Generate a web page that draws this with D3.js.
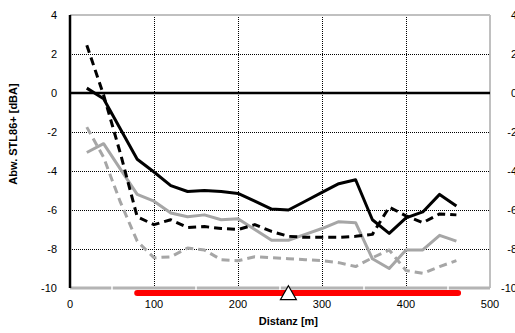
<!DOCTYPE html>
<html>
<head>
<meta charset="utf-8">
<script src="https://cdn.jsdelivr.net/npm/d3@7"></script>
<style>
  body { margin: 0; background: #fff; }
  text { font-family: "Liberation Sans", Arial, sans-serif; }
</style>
</head>
<body>
<div id="chart"></div>
<script>
// distances along the route [m]
const distanz = [20, 40, 60, 80, 100, 120, 140, 160, 180, 200, 220, 240, 260, 280, 300, 320, 340, 360, 380, 400, 420, 440, 460];

const blackSolid = [0.25, -0.3, -1.85, -3.4, -4.05, -4.75, -5.05, -5.0, -5.05, -5.15, -5.55, -5.95, -6.0, -5.55, -5.1, -4.65, -4.45, -6.5, -7.2, -6.4, -6.1, -5.2, -5.8];
const blackDashed = [2.45, -0.1, -3.1, -6.35, -6.75, -6.5, -6.9, -6.85, -6.95, -7.0, -6.75, -7.1, -7.35, -7.4, -7.4, -7.4, -7.35, -7.25, -5.85, -6.3, -6.65, -6.2, -6.25];
const graySolid = [-3.05, -2.6, -3.9, -5.2, -5.55, -6.15, -6.35, -6.25, -6.5, -6.45, -7.0, -7.55, -7.55, -7.25, -6.95, -6.6, -6.65, -8.5, -9.0, -8.05, -8.05, -7.3, -7.6];
const grayDashed = [-1.75, -3.3, -5.6, -7.6, -8.45, -8.4, -7.95, -8.05, -8.55, -8.6, -8.4, -8.45, -8.5, -8.55, -8.6, -8.7, -8.9, -8.45, -8.05, -9.1, -9.25, -8.9, -8.6];

const xTicks = [0, 100, 200, 300, 400, 500];
const xMinor = [50, 150, 250, 350, 450];
const yTicks = [4, 2, 0, -2, -4, -6, -8, -10];

const strecke = [80, 462];   // red bar
const marker = 260;          // triangle

const margin = {top: 15, right: 25, bottom: 45, left: 70};
const width = 490 - margin.left;
const height = 288 - margin.top;

const svg = d3.select("#chart")
    .append("svg")
    .attr("width", 515)
    .attr("height", 333)
    .append("g")
    .attr("transform", "translate(" + margin.left + "," + margin.top + ")");

const x = d3.scaleLinear().domain([0, 500]).range([0, width]);
const y = d3.scaleLinear().domain([-10, 4]).range([height, 0]);

const grey = "#a6a6a6";

// dotted grid
svg.selectAll(".vgrid")
    .data(xTicks.filter(d => d > 0 && d < 500))
    .enter().append("line")
    .attr("x1", d => x(d) + 0.5).attr("x2", d => x(d) + 0.5)
    .attr("y1", 0).attr("y2", height)
    .style("stroke", "#000").style("stroke-width", 1).style("stroke-dasharray", "1,1");

svg.selectAll(".hgrid")
    .data(yTicks.filter(d => d !== 0 && d !== 4 && d !== -10))
    .enter().append("line")
    .attr("x1", 0).attr("x2", width)
    .attr("y1", d => y(d) + 0.5).attr("y2", d => y(d) + 0.5)
    .style("stroke", "#000").style("stroke-width", 1).style("stroke-dasharray", "1,1");

// frame
svg.append("line").attr("x1", 0).attr("x2", width).attr("y1", 0).attr("y2", 0)
    .style("stroke", "#c0c0c0").style("stroke-width", 2);
svg.append("line").attr("x1", width).attr("x2", width).attr("y1", 0).attr("y2", height)
    .style("stroke", "#c0c0c0").style("stroke-width", 2);

// bottom axis (grey, with white minor ticks)
svg.append("line").attr("x1", 0).attr("x2", width).attr("y1", height).attr("y2", height)
    .style("stroke", "#b4b4b4").style("stroke-width", 3);
svg.selectAll(".minor")
    .data(xMinor)
    .enter().append("line")
    .attr("x1", d => x(d)).attr("x2", d => x(d))
    .attr("y1", height - 2).attr("y2", height + 2)
    .style("stroke", "#fff").style("stroke-width", 1.5);

// zero line and left axis
svg.append("line").attr("x1", 0).attr("x2", width).attr("y1", y(0)).attr("y2", y(0))
    .style("stroke", "#000").style("stroke-width", 2.5);
svg.append("line").attr("x1", 0).attr("x2", 0).attr("y1", 0).attr("y2", height)
    .style("stroke", "#000").style("stroke-width", 2.5);

// tick labels
svg.selectAll(".ylab")
    .data(yTicks)
    .enter().append("text")
    .attr("x", -13).attr("y", d => y(d) + 4)
    .attr("text-anchor", "end")
    .style("font-size", "11px")
    .text(d => d);

svg.selectAll(".ylab2")
    .data(yTicks)
    .enter().append("text")
    .attr("x", 517 - margin.left).attr("y", d => y(d) + 4)
    .attr("text-anchor", "end")
    .style("font-size", "11px")
    .text(d => d);

svg.selectAll(".xlab")
    .data(xTicks)
    .enter().append("text")
    .attr("x", d => x(d)).attr("y", height + 20)
    .attr("text-anchor", "middle")
    .style("font-size", "11px")
    .text(d => d);

// axis titles
svg.append("text")
    .attr("x", x(260)).attr("y", height + 37)
    .attr("text-anchor", "middle")
    .style("font-size", "11px").style("font-weight", "bold")
    .text("Distanz [m]");

svg.append("text")
    .attr("transform", "translate(" + (17 - margin.left) + "," + (134 - margin.top) + ") rotate(-90)")
    .attr("text-anchor", "middle")
    .style("font-size", "11px").style("font-weight", "bold")
    .text("Abw. STL86+ [dBA]");

// series
const line = d3.line()
    .x((d, i) => x(distanz[i]))
    .y(d => y(d));

const series = [
    {values: grayDashed, color: grey, dash: "8,5"},
    {values: graySolid, color: grey, dash: null},
    {values: blackDashed, color: "#000", dash: "8,5"},
    {values: blackSolid, color: "#000", dash: null}
];

svg.selectAll(".series")
    .data(series)
    .enter().append("path")
    .attr("d", d => line(d.values))
    .style("fill", "none")
    .style("stroke", d => d.color)
    .style("stroke-width", 3)
    .style("stroke-linejoin", "round")
    .style("stroke-dasharray", d => d.dash);

// red section and triangle marker
svg.append("line")
    .attr("x1", x(strecke[0])).attr("x2", x(strecke[1]))
    .attr("y1", height + 5).attr("y2", height + 5)
    .style("stroke", "#ff0000").style("stroke-width", 6)
    .style("stroke-linecap", "round");

const tri = d3.symbol().type(d3.symbolTriangle).size(110);
svg.append("path")
    .attr("d", tri())
    .attr("transform", "translate(" + x(marker) + "," + (height + 7) + ")")
    .style("fill", "#fff").style("stroke", "#000").style("stroke-width", 1.2);
</script>
</body>
</html>
